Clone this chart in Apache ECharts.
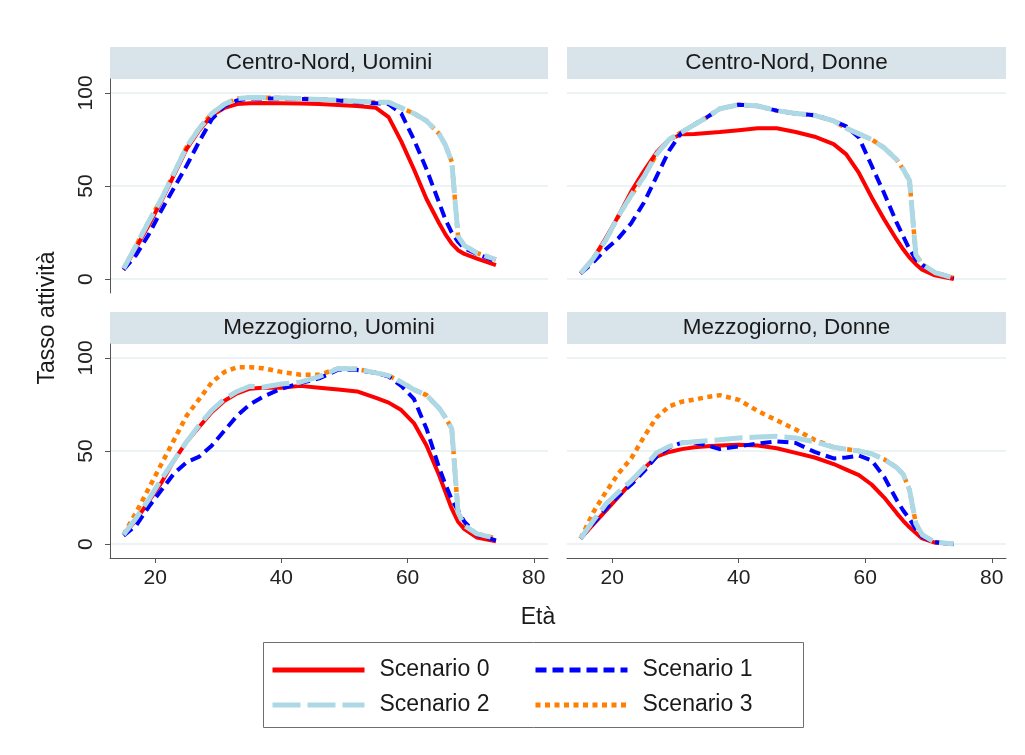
<!DOCTYPE html>
<html>
<head>
<meta charset="utf-8">
<script src="https://cdn.jsdelivr.net/npm/echarts@6/dist/echarts.min.js"></script>
<style>
html,body{margin:0;padding:0;background:#ffffff;}
#chart{width:1025px;height:755px;}
</style>
</head>
<body>
<div id="chart"></div>
<script>
// ---------------- DATA ----------------
const ages = [15,17,19,21,23,25,27,29,31,33,35,37,40,43,46,49,52,55,57,59,61,63,65,66,67,68,69,71,74];
const panelTitles = ['Centro-Nord, Uomini','Centro-Nord, Donne','Mezzogiorno, Uomini','Mezzogiorno, Donne'];
const scenarioNames = ['Scenario 0','Scenario 1','Scenario 2','Scenario 3'];
const yTicks = [0,50,100];
const xTicks = [20,40,60,80];
const xTitle = 'Età';
const yTitle = 'Tasso attività';

// Centro-Nord, Uomini
const cnU_s0 = [5,17,29,42,56,70,80,88,92,94,94.5,94.6,94.5,94.3,94,93.5,93,92,87,74,59,43,30,24,19,15.5,13.5,11,7.5];
const cnU_s1 = [5,13,24,37,49,61,74,86,93,96,97,97,97,96.8,96.5,96,95,94.5,94,89,75,59,41,32,25,20,16.5,13.5,9.5];
const cnU_s2 = [5.5,18,31,43,57,71,81,89,94,97,97.5,97.5,97.3,97,96.5,96,95.5,95,95,92,89,85,78,72,63,23,18,14,10.5];
const cnU_s3 = [5.5,18,31,43,57,71,81,89,94,97,97.5,97.5,97.3,97,96.5,96,95.5,95,95,92,89,85,78,72,63,23,18,14,10.5];
// Centro-Nord, Donne
const cnD_s0 = [3,11,22,34,47,58,68,75,77.8,78,78.5,79,80,81,81,79,76.5,72.5,67,57,44,32,21,16,11.5,8,5,2,0];
const cnD_s1 = [3,9,16,22,30,41,55,69,79,83,87,91.5,93.7,93,90.5,89,88,85,82,76,61,46,30,23,16,10.5,7.5,3.5,0.5];
const cnD_s2 = [3,11,21,34,45,55,67,75,79,83,87,91.5,93.7,93,90.5,89,88,85,81,78,75,70.5,64,59,53,13,8,3.5,0.5];
const cnD_s3 = [3,11,21,34,45,55,67,75,79,83,87,91.5,93.7,93,90.5,89,88,85,81,78,75,70.5,64,59,53,13,8,3.5,0.5];
// Mezzogiorno, Uomini
const mzU_s0 = [5,13,23,33,45,55,63,71,77,81,83.5,84,84,85,84,83,82,78.5,76,72,65,53,37,28,19,12,8,3.5,1.5];
const mzU_s1 = [4.5,10,20,29,38,44,47,53,61,69,75,79,83.5,86.5,89,93.7,93.5,92,90,85,78,62,41,32,24,18,12,5,2];
const mzU_s2 = [5,14,24,35,45,55,64,72,78,82,84.8,84.3,86,87,90,94.3,94,92,90.5,87,83,80,73,68,62,17,10,5.5,3];
const mzU_s3 = [5,17,30,43,56,69,78,87,92.5,95,95,94.5,92.5,91,91,94.3,94,92,90.5,87,83,80,73,68,62,17,10,5.5,3];
// Mezzogiorno, Donne
const mzD_s0 = [3,10.5,18,25.5,33,40.5,47,49.5,51,52,52.5,53,53.4,53,51.5,49,46.5,43,40,37,32,25,16.5,12.5,9,6,3,0.8,0];
const mzD_s1 = [3,11,19,26,32,39,47,52,54.5,54.5,53,51,52.5,54,55.2,54.3,49.5,46,46.5,47.5,45,36,23.5,18,13.5,8,4,1,0];
const mzD_s2 = [3,12.5,21.5,28,34,41,49,52.5,54.3,55,55.5,56,57,57.5,57.9,57,55,52,51,50,48.5,45.5,41,37.5,29,11,5,1,0];
const mzD_s3 = [3,17,28,38,46,57.5,68,74,76.5,77.6,79,80,77.5,71.5,66.5,61.5,56,52,51,50,48.5,45.5,41,37.5,29,11,5,1,0];

// ---------------- LAYOUT / STYLE ----------------
const FONT = '"Liberation Sans", Arial, Helvetica, sans-serif';
const panelSeries = [
  [cnU_s0, cnU_s1, cnU_s2, cnU_s3],
  [cnD_s0, cnD_s1, cnD_s2, cnD_s3],
  [mzU_s0, mzU_s1, mzU_s2, mzU_s3],
  [mzD_s0, mzD_s1, mzD_s2, mzD_s3]
];
const panelLayout = [
  {left:110, top:79,  width:438, height:214, yAxisShown:true,  xAxisShown:false},
  {left:567, top:79,  width:439, height:214, yAxisShown:false, xAxisShown:false},
  {left:110, top:344, width:438, height:214, yAxisShown:true,  xAxisShown:true},
  {left:567, top:344, width:439, height:214, yAxisShown:false, xAxisShown:true}
];
const scenarioStyle = [
  {color:'#ff0000', width:4,   type:'solid', z:3},
  {color:'#0000ff', width:4,   type:[11,6],  z:3},
  {color:'#add8e6', width:5,   type:[28,7],  z:5},
  {color:'#ff7f00', width:4.5, type:[5,4.5], z:2}
];
const AXIS_COLOR = '#555555';
const GRID_LINE = '#e6eff1';
const STRIP_FILL = '#d9e4ea';

const grids = [], xAxes = [], yAxes = [], series = [], graphics = [];

panelLayout.forEach(function(p, i){
  grids.push({left:p.left, top:p.top, width:p.width, height:p.height, containLabel:false});
  xAxes.push({
    gridIndex:i, type:'value', min:12.85, max:82.25,
    axisLine:{show:p.xAxisShown, onZero:false, lineStyle:{color:AXIS_COLOR, width:1}},
    axisTick:{show:p.xAxisShown, customValues:xTicks, length:5, lineStyle:{color:AXIS_COLOR}},
    axisLabel:{show:p.xAxisShown, customValues:xTicks, margin:10, fontSize:21, color:'#222', fontFamily:FONT},
    splitLine:{show:false}
  });
  yAxes.push({
    gridIndex:i, type:'value', min:-7.5, max:107.5,
    axisLine:{show:p.yAxisShown, onZero:false, lineStyle:{color:AXIS_COLOR, width:1}},
    axisTick:{show:p.yAxisShown, customValues:yTicks, length:5, lineStyle:{color:AXIS_COLOR}},
    axisLabel:{show:p.yAxisShown, customValues:yTicks, rotate:90, margin:13, fontSize:21, color:'#222', fontFamily:FONT},
    splitLine:{show:true, lineStyle:{color:GRID_LINE, width:1.5}}
  });
  // strip header
  graphics.push({
    type:'rect', left:p.left, top:p.top - 32, silent:true,
    shape:{width:p.width, height:32},
    style:{fill:STRIP_FILL}
  });
  graphics.push({
    type:'text', silent:true,
    x:p.left + p.width/2, y:p.top - 16,
    style:{text:panelTitles[i], font:'22.5px ' + FONT, fill:'#1a1a1a', align:'center', verticalAlign:'middle'}
  });
  panelSeries[i].forEach(function(vals, s){
    const st = scenarioStyle[s];
    series.push({
      name:scenarioNames[s], type:'line', xAxisIndex:i, yAxisIndex:i,
      data:ages.map(function(a, k){ return [a, vals[k]]; }),
      symbol:'none', showSymbol:false, smooth:false,
      z:st.z, color:st.color,
      lineStyle:{color:st.color, width:st.width, type:st.type, cap:'butt', join:'round'},
      emphasis:{disabled:true}, animation:false
    });
  });
});

// axis titles
graphics.push({
  type:'text', silent:true, x:48, y:318, rotation:Math.PI/2,
  style:{text:yTitle, font:'23px ' + FONT, fill:'#1a1a1a', align:'center', verticalAlign:'middle'}
});
graphics.push({
  type:'text', silent:true, x:538, y:618,
  style:{text:xTitle, font:'23px ' + FONT, fill:'#1a1a1a', align:'center', verticalAlign:'middle'}
});
// legend frame
graphics.push({
  type:'rect', silent:true, left:263, top:642, z:-1,
  shape:{width:540, height:85},
  style:{fill:'#ffffff', stroke:'#6e6e6e', lineWidth:1}
});

const legendCommon = {
  orient:'vertical', itemWidth:92, itemHeight:14, itemGap:11, selectedMode:false, padding:0,
  textStyle:{fontSize:23, fontFamily:FONT, color:'#1a1a1a', lineHeight:24, padding:[0,0,0,10]},
  lineStyle:{width:5}, itemStyle:{opacity:0}
};

const option = {
  backgroundColor:'#ffffff',
  animation:false,
  grid:grids, xAxis:xAxes, yAxis:yAxes, series:series,
  legend:[
    Object.assign({}, legendCommon, {left:270, top:658, data:[scenarioNames[0], scenarioNames[2]]}),
    Object.assign({}, legendCommon, {left:533, top:658, data:[scenarioNames[1], scenarioNames[3]]})
  ],
  graphic:graphics
};

const chart = echarts.init(document.getElementById('chart'), null, {renderer:'canvas'});
chart.setOption(option);
</script>
</body>
</html>
